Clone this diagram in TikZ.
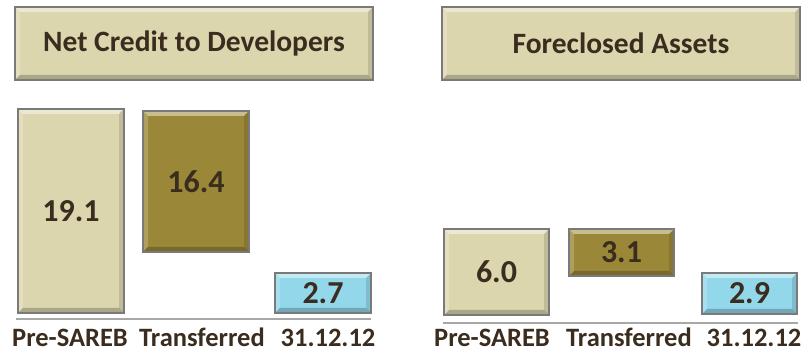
\documentclass[tikz,border=0pt]{standalone}
\usepackage{fontspec}
\setmainfont{Carlito}
\usepackage{xcolor}
\usepackage{tikz}
\definecolor{beige}{HTML}{DBD6AE}
\definecolor{olive}{HTML}{9A8838}
\definecolor{skyblue}{HTML}{92D7EA}
\definecolor{rim}{HTML}{7A7A7A}
\definecolor{ink}{HTML}{3A2C1E}
\definecolor{axisgray}{HTML}{A8A8A8}
\tikzset{
  bevel/.style={path picture={
    \fill[white,opacity=.45] (path picture bounding box.north west) -- (path picture bounding box.north east)
      -- ([xshift=-5pt,yshift=-5pt]path picture bounding box.north east) -- ([xshift=5pt,yshift=-5pt]path picture bounding box.north west) -- cycle;
    \fill[white,opacity=.2] (path picture bounding box.north west) -- ([xshift=5pt,yshift=-5pt]path picture bounding box.north west)
      -- ([xshift=5pt,yshift=5pt]path picture bounding box.south west) -- (path picture bounding box.south west) -- cycle;
    \fill[black,opacity=.12] (path picture bounding box.north east) -- ([xshift=-5pt,yshift=-5pt]path picture bounding box.north east)
      -- ([xshift=-5pt,yshift=5pt]path picture bounding box.south east) -- (path picture bounding box.south east) -- cycle;
    \fill[black,opacity=.22] (path picture bounding box.south west) -- ([xshift=5pt,yshift=5pt]path picture bounding box.south west)
      -- ([xshift=-5pt,yshift=5pt]path picture bounding box.south east) -- (path picture bounding box.south east) -- cycle;
  }},
  bar/.style={draw=rim,line width=1.3pt,bevel,inner sep=0pt,text=ink,font=\bfseries\fontsize{32}{34}\selectfont},
  titlebox/.style={bar,fill=beige,minimum width=358pt,minimum height=73pt,font=\bfseries\fontsize{29.5}{32}\selectfont},
  cat/.style={text=ink,inner sep=0pt,anchor=base,font=\bfseries\fontsize{26.5}{28}\selectfont},
  axis/.style={draw=axisgray,line width=1.3pt}
}
\begin{document}
\begin{tikzpicture}[x=1pt,y=-1pt]
\useasboundingbox (0,0) rectangle (812,352);
% titles
\node[titlebox] (ncd) at (194,43.5) {Net Credit to Developers};
\node[titlebox] (fa) at (621,43.5) {Foreclosed Assets};
% net credit to developers
\node[bar,fill=beige,minimum width=106pt,minimum height=204pt] (pre1) at (71,211) {19.1};
\node[bar,fill=olive,minimum width=106pt,minimum height=141pt] (tr1) at (196,181.5) {16.4};
\node[bar,fill=skyblue,minimum width=96pt,minimum height=40pt] (dec1) at (323,293) {2.7};
\coordinate (axl1) at (16,319);
\coordinate (axl2) at (371,319);
\draw[axis] (axl1) -- (axl2);
\node[cat] (lpre1) at (70,346.5) {Pre-SAREB};
\node[cat] (ltr1) at (202,346.5) {Transferred};
\node[cat] (ldec1) at (328,346.5) {31.12.12};
% foreclosed assets
\node[bar,fill=beige,minimum width=105pt,minimum height=86pt] (pre2) at (496.5,272) {6.0};
\node[bar,fill=olive,minimum width=105pt,minimum height=47pt] (tr2) at (621.5,252.5) {3.1};
\node[bar,fill=skyblue,minimum width=95pt,minimum height=41pt] (dec2) at (749.5,293.5) {2.9};
\coordinate (axr1) at (443,323);
\coordinate (axr2) at (798,323);
\draw[axis] (axr1) -- (axr2);
\node[cat] (lpre2) at (492,346.5) {Pre-SAREB};
\node[cat] (ltr2) at (629,346.5) {Transferred};
\node[cat] (ldec2) at (754,346.5) {31.12.12};
\end{tikzpicture}
\end{document}
